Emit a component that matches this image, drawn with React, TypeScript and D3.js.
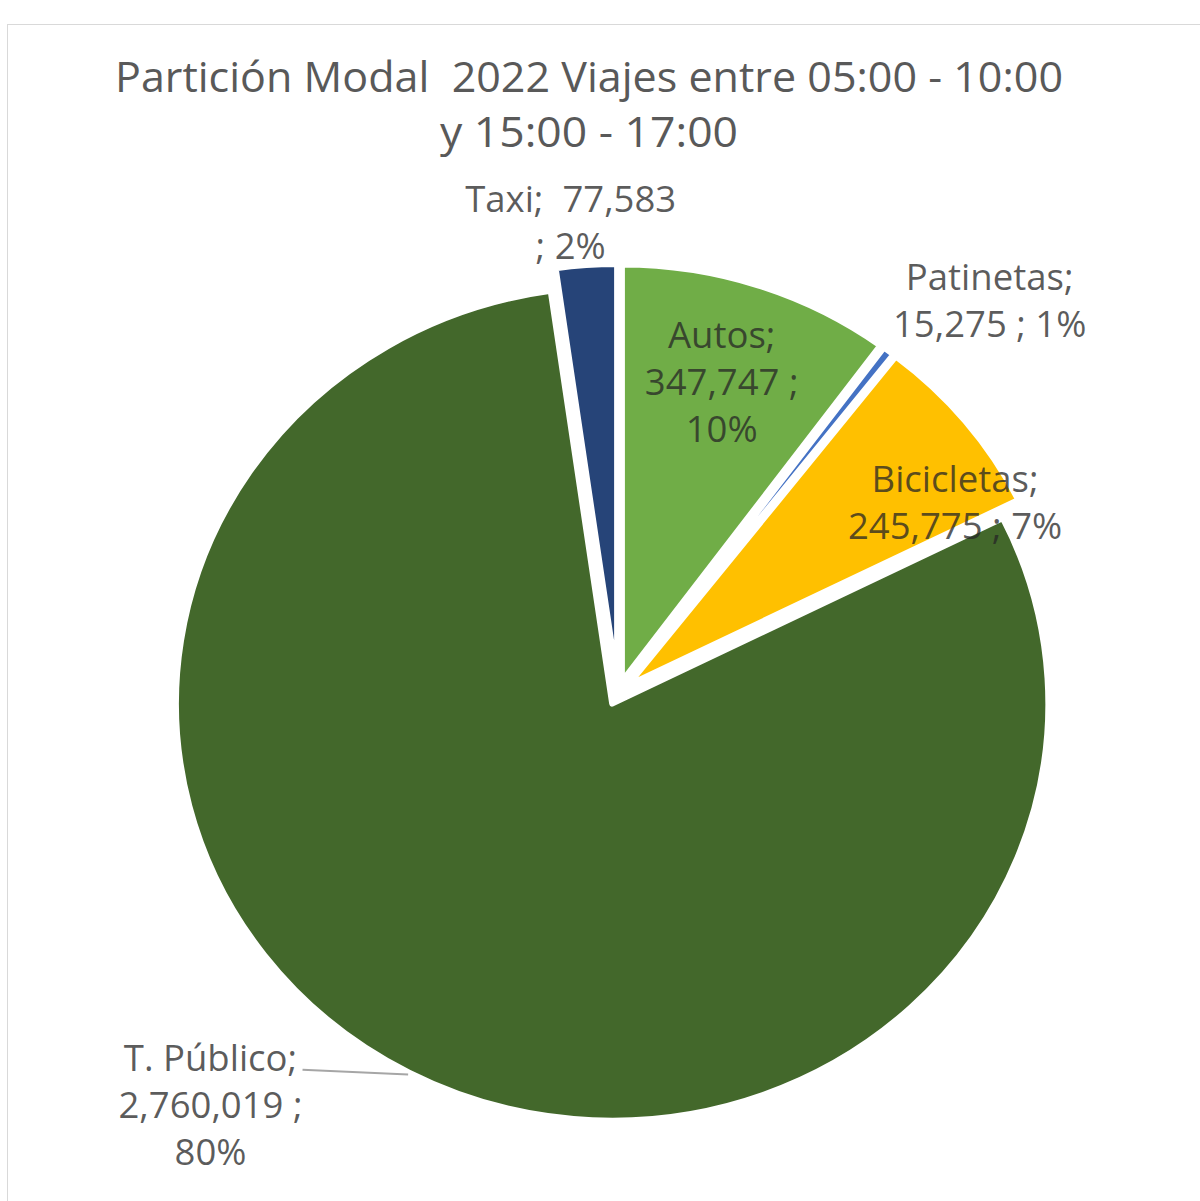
import React from 'react';
import * as d3 from 'd3';

const categories = ['Autos', 'Patinetas', 'Bicicletas', 'T. Público', 'Taxi'];
const trips = [347747, 15275, 245775, 2760019, 77583];
const percentLabels = ['10%', '1%', '7%', '80%', '2%'];
const sliceColors = ['#70AD47', '#4472C4', '#FFC000', '#43682B', '#264478'];
const titleLines = ['Partición Modal  2022 Viajes entre 05:00 - 10:00', 'y 15:00 - 17:00'];
const titleWidths = [948, 298];

const W = 1200;
const H = 1201;
const cx = 618;
const cy = 693;
const R = 417;
const stretch = 1.046; // the reference pie is a touch wider than tall
const explode = 12;
const lineH = 47;
const labelFont = 36.5;

// where each data label sits: [angle in degrees clockwise from 12 o'clock, distance from centre]
const labelSpots: Record<string, [number, number]> = {
  Autos: [17.7, 326],
  Patinetas: [42.2, 529],
  Bicicletas: [59.5, 374],
  'T. Público': [223.4, 567],
  Taxi: [354.5, 472],
};

const fmt = d3.format(',');

function labelLines(i: number): string[] {
  const name = categories[i];
  const v = fmt(trips[i]);
  const p = percentLabels[i];
  if (name === 'Taxi') return [`${name};  ${v}`, `; ${p}`];
  if (name === 'Autos' || name === 'T. Público') return [`${name};`, `${v} ;`, p];
  return [`${name};`, `${v} ; ${p}`];
}

function polar(deg: number, r: number): [number, number] {
  const a = (deg * Math.PI) / 180;
  return [cx + stretch * r * Math.sin(a), cy - r * Math.cos(a)];
}

const App = () => {
  const slices = d3.pie<number>().sort(null).value((d) => d)(trips);
  const arc = d3.arc<d3.PieArcDatum<number>>().innerRadius(0).outerRadius(R);

  const offsetOf = (s: d3.PieArcDatum<number>): [number, number] => {
    const mid = (s.startAngle + s.endAngle) / 2;
    return [stretch * explode * Math.sin(mid), -explode * Math.cos(mid)];
  };

  // leader line for T. Público
  const tp = categories.indexOf('T. Público');
  const tpSlice = slices[tp];
  const tpMid = (tpSlice.startAngle + tpSlice.endAngle) / 2;
  const [tox, toy] = offsetOf(tpSlice);
  const leadEnd: [number, number] = [
    cx + tox + stretch * (R + 2) * Math.sin(tpMid),
    cy + toy - (R + 2) * Math.cos(tpMid),
  ];
  const [tlx, tly] = polar(labelSpots['T. Público'][0], labelSpots['T. Público'][1]);
  const tpFirstBase = tly - lineH + labelFont * 0.35;
  const leadStart: [number, number] = [tlx + 92, tpFirstBase - 1];

  return (
    <svg
      width={W}
      height={H}
      style={{ position: 'absolute', left: 0, top: 0, background: '#fff' }}
      fontFamily="'Open Sans', sans-serif"
    >
      <rect x={7.5} y={24.5} width={W} height={H} fill="#fff" stroke="#d9d9d9" strokeWidth={1} />

      <g fill="#595959" fontSize={42} textAnchor="middle">
        {titleLines.map((t, i) => (
          <text
            key={i}
            x={589}
            y={92 + i * 55}
            textLength={titleWidths[i]}
            lengthAdjust="spacingAndGlyphs"
            style={{ whiteSpace: 'pre' }}
          >
            {t}
          </text>
        ))}
      </g>

      {slices.map((s, i) => {
        const [ox, oy] = offsetOf(s);
        return (
          <g key={categories[i]} transform={`translate(${cx + ox},${cy + oy}) scale(${stretch},1)`}>
            <path
              d={arc(s) || ''}
              fill={sliceColors[i]}
              stroke="#fff"
              strokeWidth={6}
              strokeLinejoin="round"
              vectorEffect="non-scaling-stroke"
            />
          </g>
        );
      })}

      <line
        x1={leadStart[0]}
        y1={leadStart[1]}
        x2={leadEnd[0]}
        y2={leadEnd[1]}
        stroke="#a6a6a6"
        strokeWidth={2}
      />

      {categories.map((name, i) => {
        const [lx, ly] = polar(labelSpots[name][0], labelSpots[name][1]);
        const lines = labelLines(i);
        return (
          <text
            key={name}
            x={lx}
            fontSize={labelFont}
            textAnchor="middle"
            fill="#262626"
            fillOpacity={0.75}
            style={{ whiteSpace: 'pre' }}
          >
            {lines.map((l, j) => (
              <tspan key={j} x={lx} y={ly + (j - (lines.length - 1) / 2) * lineH + labelFont * 0.35}>
                {l}
              </tspan>
            ))}
          </text>
        );
      })}
    </svg>
  );
};

export default App;
